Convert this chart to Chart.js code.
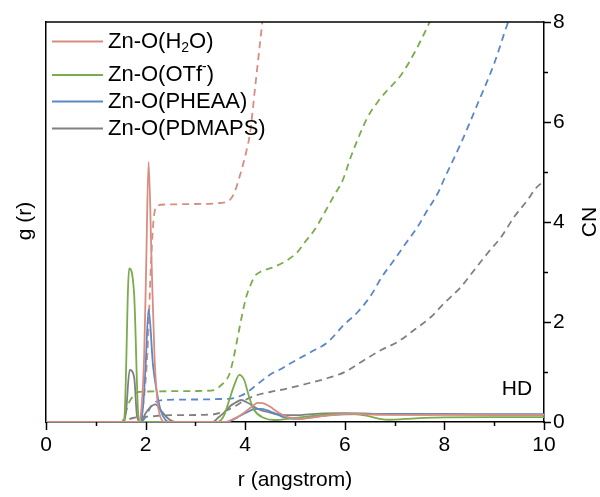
<!DOCTYPE html>
<html>
<head>
<meta charset="utf-8">
<script src="https://cdn.jsdelivr.net/npm/chart.js@4.4.1/dist/chart.umd.min.js"></script>
<style>
  html, body { margin: 0; padding: 0; background: #fff; }
  #wrap { width: 600px; height: 497px; }
</style>
</head>
<body>
<div id="wrap"><canvas id="rdf" width="600" height="497"></canvas></div>
<script>
// g(r) curves (solid, left axis) and coordination numbers (dashed, right axis)
const rH2O = [0, 1.86, 1.92, 1.97, 2.01, 2.06, 2.12, 2.18, 2.24, 2.3, 2.4, 3.62, 3.72, 3.82, 3.92, 4.05, 4.15, 4.25, 4.35, 4.45, 4.55, 4.65, 4.75, 4.85, 5.0, 5.12, 5.5, 5.8, 6.1, 6.5, 7.0, 7.5, 8.0, 9.0, 10];
const gH2O = [0, 0, 2, 8, 19, 32.5, 20, 8, 2.5, 0.6, 0, 0, 0.25, 0.55, 0.9, 1.5, 2.0, 2.4, 2.35, 2.1, 1.7, 1.25, 0.9, 0.6, 0.45, 0.4, 0.7, 0.9, 1.05, 0.95, 0.88, 0.9, 0.92, 0.9, 0.88];

const rOTf = [0, 1.55, 1.58, 1.67, 1.77, 1.86, 1.9, 3.45, 3.52, 3.58, 3.68, 3.78, 3.88, 3.98, 4.08, 4.18, 4.38, 4.58, 4.98, 5.5, 5.9, 6.2, 6.5, 6.7, 6.9, 7.2, 7.6, 8.0, 9.0, 10];
const gOTf = [0, 0, 1.0, 19.2, 15.9, 0.3, 0, 0, 0.3, 0.9, 2.75, 4.6, 5.9, 5.25, 3.1, 1.5, 0.5, 0.25, 0.5, 0.85, 1.0, 1.0, 0.7, 0.4, 0.28, 0.38, 0.52, 0.58, 0.6, 0.6];

const rPHEAA = [0, 1.9, 1.95, 2.0, 2.06, 2.15, 2.23, 2.3, 2.4, 2.5, 3.62, 3.72, 3.85, 3.95, 4.05, 4.18, 4.32, 4.45, 4.55, 4.65, 4.75, 4.9, 5.05, 5.3, 5.6, 6.0, 6.4, 7.0, 8.0, 9.0, 10];
const gPHEAA = [0, 0, 2, 7, 14.1, 7, 3.6, 1.5, 0.25, 0, 0, 0.2, 0.6, 0.95, 1.25, 1.6, 1.65, 1.45, 1.2, 0.95, 0.65, 0.45, 0.38, 0.55, 0.8, 0.95, 1.0, 1.0, 1.0, 0.98, 0.98];

const rPDMAPS = [0, 1.57, 1.61, 1.68, 1.77, 1.83, 1.9, 2.0, 2.1, 2.2, 2.3, 2.44, 2.6, 3.35, 3.45, 3.58, 3.7, 3.8, 3.92, 4.05, 4.18, 4.3, 4.45, 4.6, 4.72, 5.0, 5.5, 6.0, 6.5, 7.0, 8.0, 9.0, 10];
const gPDMAPS = [0, 0, 1.5, 6.5, 5.6, 0.6, 0, 1.1, 1.9, 2.2, 1.5, 0.5, 0, 0, 0.5, 1.2, 2.0, 2.4, 2.75, 2.4, 1.9, 1.5, 1.25, 1.0, 0.9, 0.85, 1.05, 1.1, 1.05, 0.95, 0.92, 0.9, 0.9];

const rcH2O = [0, 1.86, 1.92, 1.98, 2.04, 2.11, 2.17, 2.25, 2.4, 3.0, 3.5, 3.62, 3.7, 3.78, 3.9, 4.02, 4.1, 4.2, 4.3, 4.4];
const cnH2O = [0, 0, 0.15, 0.6, 1.44, 3.2, 4.14, 4.33, 4.35, 4.36, 4.38, 4.4, 4.45, 4.58, 4.95, 5.4, 5.8, 6.7, 7.6, 8.5];

const rcOTf = [0, 1.52, 1.6, 1.65, 1.7, 1.77, 1.85, 2.0, 3.0, 3.38, 3.5, 3.6, 3.68, 3.76, 3.85, 3.95, 4.02, 4.1, 4.18, 4.3, 4.58, 4.85, 5.05, 5.2, 5.39, 5.59, 5.79, 5.96, 6.12, 6.3, 6.46, 6.66, 6.86, 7.13, 7.39, 7.6, 7.75];
const cnOTf = [0, 0, 0.18, 0.35, 0.45, 0.54, 0.6, 0.61, 0.62, 0.64, 0.72, 0.82, 0.95, 1.25, 1.7, 2.2, 2.5, 2.72, 2.9, 3.0, 3.1, 3.24, 3.4, 3.6, 3.84, 4.18, 4.54, 4.84, 5.3, 5.75, 6.1, 6.4, 6.64, 6.94, 7.37, 7.78, 8.1];

const rcPHEAA = [0, 1.9, 2.0, 2.1, 2.2, 2.34, 3.0, 3.5, 3.78, 3.9, 4.05, 4.2, 4.38, 4.55, 4.72, 4.92, 5.1, 5.32, 5.66, 5.98, 6.26, 6.53, 6.73, 6.99, 7.23, 7.46, 7.66, 7.87, 8.0, 8.33, 8.67, 9.0, 9.27, 9.4];
const cnPHEAA = [0, 0, 0.1, 0.3, 0.4, 0.44, 0.45, 0.46, 0.48, 0.52, 0.6, 0.72, 0.86, 0.98, 1.06, 1.18, 1.28, 1.4, 1.6, 1.94, 2.2, 2.54, 2.88, 3.24, 3.58, 3.9, 4.24, 4.58, 4.87, 5.57, 6.37, 7.17, 7.97, 8.3];

const rcPDMAPS = [0, 1.55, 1.65, 1.75, 1.9, 2.1, 2.3, 3.0, 3.4, 3.6, 3.8, 4.0, 4.18, 4.5, 4.85, 5.25, 5.66, 6.0, 6.33, 6.73, 7.06, 7.39, 7.73, 8.0, 8.33, 8.6, 8.87, 9.14, 9.4, 9.67, 9.84, 10];
const cnPDMAPS = [0, 0, 0.05, 0.08, 0.1, 0.11, 0.13, 0.14, 0.16, 0.22, 0.32, 0.44, 0.52, 0.6, 0.67, 0.77, 0.88, 1.0, 1.2, 1.44, 1.6, 1.84, 2.1, 2.38, 2.7, 3.04, 3.38, 3.7, 4.1, 4.44, 4.68, 4.82];

const seriesLabels = ['Zn-O(H\u2082O)', 'Zn-O(OTf\u207B)', 'Zn-O(PHEAA)', 'Zn-O(PDMAPS)'];
const seriesColors = ['#d98c80', '#7aab4c', '#5a87c6', '#808080'];
const xTicks = [0, 2, 4, 6, 8, 10];
const cnTicks = [0, 2, 4, 6, 8];

const FONT = '"Liberation Sans", Arial, sans-serif';

function pts(rs, vs) {
  return rs.map(function (r, i) { return { x: r, y: vs[i] }; });
}

const gSets = [[rH2O, gH2O], [rOTf, gOTf], [rPHEAA, gPHEAA], [rPDMAPS, gPDMAPS]];
const cnSets = [[rcH2O, cnH2O], [rcOTf, cnOTf], [rcPHEAA, cnPHEAA], [rcPDMAPS, cnPDMAPS]];

const datasets = [];
seriesLabels.forEach(function (lab, i) {
  datasets.push({
    label: lab,
    data: pts(gSets[i][0], gSets[i][1]),
    yAxisID: 'yG',
    borderColor: seriesColors[i],
    borderWidth: 1.8,
    pointRadius: 0,
    cubicInterpolationMode: 'monotone',
    fill: false,
  });
});
seriesLabels.forEach(function (lab, i) {
  datasets.push({
    label: lab + ' CN',
    data: pts(cnSets[i][0], cnSets[i][1]),
    yAxisID: 'yCN',
    borderColor: seriesColors[i],
    borderWidth: 1.8,
    borderDash: [7, 5],
    pointRadius: 0,
    cubicInterpolationMode: 'monotone',
    fill: false,
  });
});

// legend rows: plain text pieces, 'sub' and 'sup' for the small ones
const legendParts = [
  [['Zn-O(H', ''], ['2', 'sub'], ['O)', '']],
  [['Zn-O(OTf', ''], ['-', 'sup'], [')', '']],
  [['Zn-O(PHEAA)', '']],
  [['Zn-O(PDMAPS)', '']],
];
const legendY = [41.5, 75, 101.5, 128.5];

function richText(ctx, x, y, parts) {
  parts.forEach(function (p) {
    let dy = 0;
    if (p[1] === 'sub') { ctx.font = '14px ' + FONT; dy = 7; }
    else if (p[1] === 'sup') { ctx.font = '14px ' + FONT; dy = -8; }
    else { ctx.font = '22px ' + FONT; }
    ctx.fillText(p[0], x, y + dy);
    x += ctx.measureText(p[0]).width;
  });
}

const decor = {
  id: 'decor',
  afterDraw: function (chart) {
    const ctx = chart.ctx;
    const a = chart.chartArea;
    const sx = chart.scales.x;
    const sy = chart.scales.yCN;
    ctx.save();
    ctx.strokeStyle = '#000';
    ctx.lineWidth = 1.5;

    // top frame line
    ctx.beginPath();
    ctx.moveTo(a.left, a.top);
    ctx.lineTo(a.right, a.top);
    ctx.stroke();

    // bottom ticks, major and minor
    for (let v = 0; v <= 10; v++) {
      const px = Math.round(sx.getPixelForValue(v)) + 0.5;
      ctx.beginPath();
      ctx.moveTo(px, a.bottom);
      ctx.lineTo(px, a.bottom + (v % 2 ? 4 : 8));
      ctx.stroke();
    }
    // right ticks
    for (let v = 0; v <= 8; v++) {
      const py = Math.round(sy.getPixelForValue(v)) + 0.5;
      ctx.beginPath();
      ctx.moveTo(a.right, py);
      ctx.lineTo(a.right + (v % 2 ? 4 : 7), py);
      ctx.stroke();
    }

    ctx.fillStyle = '#000';
    ctx.textBaseline = 'middle';

    // axis titles
    ctx.font = '21px ' + FONT;
    ctx.textAlign = 'center';
    ctx.fillText('r (angstrom)', 295, 480);

    ctx.save();
    ctx.translate(25, 221);
    ctx.rotate(-Math.PI / 2);
    ctx.fillText('g (r)', 0, 0);
    ctx.restore();

    ctx.save();
    ctx.translate(590, 222);
    ctx.rotate(-Math.PI / 2);
    ctx.fillText('CN', 0, 0);
    ctx.restore();

    ctx.fillText('HD', 517, 389);

    // legend
    ctx.textAlign = 'left';
    legendParts.forEach(function (parts, i) {
      const y = legendY[i];
      ctx.strokeStyle = seriesColors[i];
      ctx.lineWidth = 1.8;
      ctx.beginPath();
      ctx.moveTo(52, y);
      ctx.lineTo(103, y);
      ctx.stroke();
      richText(ctx, 108, y, parts);
    });
    ctx.restore();
  },
};

new Chart(document.getElementById('rdf'), {
  type: 'line',
  data: { datasets: datasets },
  options: {
    responsive: false,
    animation: false,
    devicePixelRatio: 1,
    layout: { padding: { top: 22, left: 0, right: 0, bottom: 0 } },
    plugins: {
      legend: { display: false },
      tooltip: { enabled: false },
    },
    scales: {
      x: {
        type: 'linear',
        position: 'bottom',
        min: 0,
        max: 10,
        afterBuildTicks: function (s) { s.ticks = xTicks.map(function (v) { return { value: v }; }); },
        ticks: { color: '#000', font: { family: FONT, size: 21 }, padding: 11, maxRotation: 0 },
        grid: { display: false, drawTicks: false },
        border: { display: true, color: '#000', width: 1.5 },
        afterFit: function (s) { s.height = 75; },
      },
      yG: {
        type: 'linear',
        position: 'left',
        min: 0,
        max: 50,
        ticks: { display: false },
        grid: { display: false, drawTicks: false },
        border: { display: true, color: '#000', width: 1.5 },
        afterFit: function (s) { s.width = 46; },
      },
      yCN: {
        type: 'linear',
        position: 'right',
        min: 0,
        max: 8,
        afterBuildTicks: function (s) { s.ticks = cnTicks.map(function (v) { return { value: v }; }); },
        ticks: { color: '#000', font: { family: FONT, size: 21 }, padding: 9 },
        grid: { display: false, drawTicks: false },
        border: { display: true, color: '#000', width: 1.5 },
        afterFit: function (s) { s.width = 56; },
      },
    },
  },
  plugins: [decor],
});
</script>
</body>
</html>
